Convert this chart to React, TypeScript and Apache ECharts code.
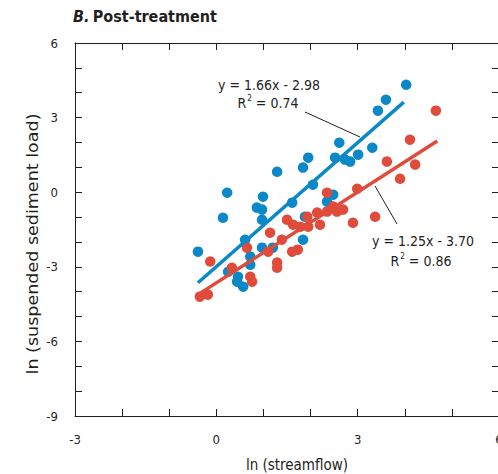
import React, { useEffect, useRef } from "react";
import * as echarts from "echarts";

const titleText = "Post-treatment";
const xName = "ln (streamflow)";
const yName = "ln (suspended sediment load)";

const bluePoints: number[][] = [
  [4.03, 4.32], [3.6, 3.72], [3.43, 3.28], [3.31, 1.79], [2.61, 1.99], [2.52, 1.39],
  [2.73, 1.31], [2.84, 1.23], [3.01, 1.51], [1.95, 1.39], [1.84, 0.99], [1.29, 0.82],
  [2.05, 0.3], [0.23, -0.02], [0.99, -0.18], [1.61, -0.42], [2.48, -0.1], [2.35, -0.38],
  [0.86, -0.62], [0.97, -0.7], [0.97, -1.11], [0.14, -1.03], [1.88, -0.99], [-0.39, -2.39],
  [0.61, -1.91], [0.97, -2.23], [1.2, -2.23], [1.84, -1.91], [0.72, -2.59], [0.72, -2.92],
  [0.25, -3.2], [0.46, -3.4], [0.44, -3.6], [0.57, -3.8],
];

const redPoints: number[][] = [
  [4.66, 3.28], [4.11, 2.11], [4.22, 1.11], [3.9, 0.54], [3.62, 1.23], [2.99, 0.14],
  [2.35, -0.02], [2.48, -0.58], [2.14, -0.82], [2.35, -0.78], [2.56, -0.78], [2.69, -0.7],
  [2.9, -1.23], [3.37, -0.99], [1.93, -0.99], [1.5, -1.11], [1.63, -1.31], [1.78, -1.39],
  [1.95, -1.39], [2.2, -1.31], [1.39, -1.91], [1.14, -1.63], [1.1, -2.39], [1.29, -2.83],
  [1.29, -3.04], [1.61, -2.39], [1.73, -2.31], [0.65, -2.23], [0.33, -3.04], [0.72, -3.4],
  [0.76, -3.6], [-0.13, -2.79], [-0.35, -4.2], [-0.18, -4.12],
];

const blueFit: number[][] = [[-0.39, -3.64], [3.98, 3.62]];
const redFit: number[][] = [[-0.39, -4.12], [4.69, 2.06]];

const blueEq = ["y = 1.66x - 2.98", "0.74"];
const redEq = ["y = 1.25x - 3.70", "0.86"];

const xTicks = { min: -3, max: 6, interval: 1 };
const yTicks = { min: -9, max: 6, interval: 1 };
const labelStep = 3;

const FONT = '"DejaVu Sans Condensed", "Liberation Sans Narrow", sans-serif';
const INK = "#231f20";
const BLUE = "#0a88c8";
const RED = "#e04b3b";

export default function App() {
  const ref = useRef<HTMLDivElement>(null);
  useEffect(() => {
    if (!ref.current) return;
    const chart = echarts.init(ref.current, null, { renderer: "svg" });
    const axisCommon = {
      axisLine: { show: true, onZero: false, lineStyle: { color: INK, width: 1 } },
      axisTick: { show: true, inside: true, length: 7, lineStyle: { color: INK, width: 1 } },
      splitLine: { show: false },
    };
    const fmt = (v: number) => (Math.abs(v % labelStep) < 1e-9 ? String(v) : "");
    const rSup = (val: string) => `{t|R}{s|2}{t| = ${val}}`;
    const eqRich = {
      t: { fontSize: 14, fontFamily: FONT, fill: INK, color: INK },
      s: { fontSize: 8, fontFamily: FONT, fill: INK, color: INK, padding: [0, 0, 9, 1] },
    };
    chart.setOption({
      animation: false,
      backgroundColor: "#ffffff",
      grid: {
        left: 75,
        top: 43,
        width: 424,
        height: 373,
        containLabel: false,
        outerBoundsMode: "none",
      },
      xAxis: [
        {
          type: "value",
          ...xTicks,
          position: "bottom",
          ...axisCommon,
          axisLabel: {
            show: true,
            margin: 17,
            fontSize: 13,
            fontFamily: FONT,
            color: INK,
            formatter: fmt,
            hideOverlap: false,
          },
        },
        {
          type: "value",
          ...xTicks,
          position: "top",
          ...axisCommon,
          axisLabel: { show: false },
        },
      ],
      yAxis: [
        {
          type: "value",
          ...yTicks,
          position: "left",
          ...axisCommon,
          axisLabel: {
            show: true,
            margin: 17,
            fontSize: 13,
            fontFamily: FONT,
            color: INK,
            formatter: fmt,
          },
        },
        {
          type: "value",
          ...yTicks,
          position: "right",
          ...axisCommon,
          axisLabel: { show: false },
        },
      ],
      series: [
        {
          type: "scatter",
          data: bluePoints,
          symbolSize: 10.5,
          itemStyle: { color: BLUE, opacity: 1 },
          z: 2,
        },
        {
          type: "scatter",
          data: redPoints,
          symbolSize: 10.5,
          itemStyle: { color: RED, opacity: 1 },
          z: 3,
        },
        {
          type: "line",
          data: blueFit,
          symbol: "none",
          lineStyle: { color: BLUE, width: 3.5 },
          z: 4,
        },
        {
          type: "line",
          data: redFit,
          symbol: "none",
          lineStyle: { color: RED, width: 3.5 },
          z: 5,
        },
      ],
      graphic: [
        {
          type: "text",
          left: 73,
          top: 8,
          style: {
            text: `{i|B.} {b|${titleText}}`,
            rich: {
              i: { fontSize: 16, fontWeight: "bold", fontStyle: "italic", fontFamily: FONT, fill: INK, color: INK },
              b: { fontSize: 16, fontWeight: "bold", fontFamily: FONT, fill: INK, color: INK },
            },
          },
        },
        {
          type: "text",
          x: 33,
          y: 244,
          rotation: Math.PI / 2,
          scaleX: 1.3,
          style: {
            text: yName,
            fontSize: 15,
            fontFamily: FONT,
            fill: INK,
            align: "center",
            verticalAlign: "middle",
          },
        },
        {
          type: "text",
          x: 297,
          y: 465,
          style: {
            text: xName,
            fontSize: 15,
            fontFamily: FONT,
            fill: INK,
            align: "center",
            verticalAlign: "middle",
          },
        },
        {
          type: "text",
          x: 269,
          y: 85,
          style: { text: blueEq[0], fontSize: 14, fontFamily: FONT, fill: INK, align: "center", verticalAlign: "middle" },
        },
        {
          type: "text",
          x: 268,
          y: 103,
          style: { text: rSup(blueEq[1]), rich: eqRich, align: "center", verticalAlign: "middle" },
        },
        {
          type: "text",
          x: 423,
          y: 241,
          style: { text: redEq[0], fontSize: 14, fontFamily: FONT, fill: INK, align: "center", verticalAlign: "middle" },
        },
        {
          type: "text",
          x: 421,
          y: 261,
          style: { text: rSup(redEq[1]), rich: eqRich, align: "center", verticalAlign: "middle" },
        },
        {
          type: "line",
          shape: { x1: 305, y1: 112, x2: 360, y2: 137 },
          style: { stroke: INK, lineWidth: 1 },
          z: 10,
        },
        {
          type: "line",
          shape: { x1: 375, y1: 186, x2: 397, y2: 224 },
          style: { stroke: INK, lineWidth: 1 },
          z: 10,
        },
      ],
    });
    return () => chart.dispose();
  }, []);
  return (
    <div
      ref={ref}
      style={{ position: "fixed", left: 0, top: 0, width: 498, height: 474, background: "#fff" }}
    />
  );
}
